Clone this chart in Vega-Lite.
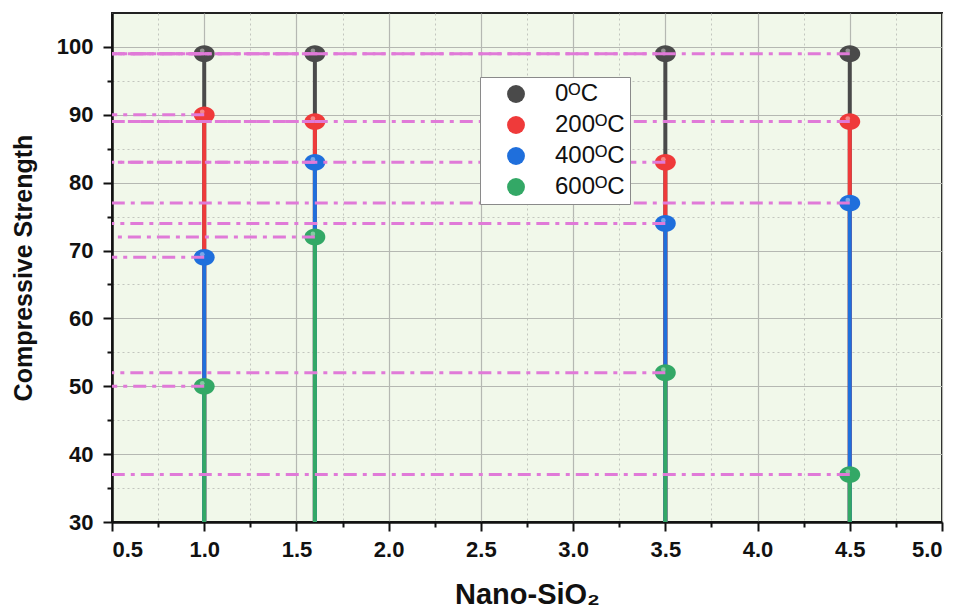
{
  "$schema": "https://vega.github.io/schema/vega-lite/v6.json",
  "width": 830,
  "height": 509,
  "autosize": {"type": "none"},
  "padding": {"left": 112, "top": 13, "right": 20, "bottom": 88},
  "background": "white",
  "config": {
    "view": {"fill": "#f1f8ea", "stroke": "#222", "strokeWidth": 2},
    "font": "Liberation Sans"
  },
  "data": {
    "values": [
      {"x": 1.0, "temp": "0ᴼC", "value": 99},
      {"x": 1.6, "temp": "0ᴼC", "value": 99},
      {"x": 3.5, "temp": "0ᴼC", "value": 99},
      {"x": 4.5, "temp": "0ᴼC", "value": 99},
      {"x": 1.0, "temp": "200ᴼC", "value": 90},
      {"x": 1.6, "temp": "200ᴼC", "value": 89},
      {"x": 3.5, "temp": "200ᴼC", "value": 83},
      {"x": 4.5, "temp": "200ᴼC", "value": 89},
      {"x": 1.0, "temp": "400ᴼC", "value": 69},
      {"x": 1.6, "temp": "400ᴼC", "value": 83},
      {"x": 3.5, "temp": "400ᴼC", "value": 74},
      {"x": 4.5, "temp": "400ᴼC", "value": 77},
      {"x": 1.0, "temp": "600ᴼC", "value": 50},
      {"x": 1.6, "temp": "600ᴼC", "value": 72},
      {"x": 3.5, "temp": "600ᴼC", "value": 52},
      {"x": 4.5, "temp": "600ᴼC", "value": 37}
    ]
  },
  "resolve": {"axis": {"x": "independent", "y": "independent"}},
  "layer": [
    {
      "mark": {"type": "point", "opacity": 0, "size": 1},
      "encoding": {
        "x": {
          "field": "x", "type": "quantitative",
          "scale": {"domain": [0.5, 5.0], "nice": false, "zero": false},
          "axis": {
            "orient": "bottom",
            "values": [0.75, 1.25, 1.75, 2.25, 2.75, 3.25, 3.75, 4.25, 4.75],
            "grid": true, "gridColor": "#c2c6bf", "gridWidth": 1, "gridDash": [2, 3],
            "domain": false, "labels": false, "title": null,
            "tickColor": "#111", "tickWidth": 2, "tickSize": 5
          }
        },
        "y": {
          "field": "value", "type": "quantitative",
          "scale": {"domain": [30, 105], "nice": false, "zero": false},
          "axis": {
            "orient": "left",
            "values": [35, 45, 55, 65, 75, 85, 95],
            "grid": true, "gridColor": "#c2c6bf", "gridWidth": 1, "gridDash": [2, 3],
            "domain": false, "labels": false, "title": null,
            "tickColor": "#111", "tickWidth": 2, "tickSize": 5
          }
        }
      }
    },
    {
      "layer": [
        {
          "mark": {"type": "rule", "strokeWidth": 4},
          "encoding": {
            "x": {
              "field": "x", "type": "quantitative",
              "axis": {
                "orient": "bottom",
                "values": [0.5, 1.0, 1.5, 2.0, 2.5, 3.0, 3.5, 4.0, 4.5, 5.0],
                "format": ".1f",
                "grid": true, "gridColor": "#b5b8b2", "gridWidth": 1.2,
                "domainColor": "#111", "domainWidth": 2.5,
                "tickColor": "#111", "tickWidth": 2, "tickSize": 9,
                "labelFont": "Liberation Sans", "labelFontWeight": "bold", "labelFontSize": 22, "labelColor": "#111",
                "labelPadding": 8,
                "title": "Nano-SiO₂", "titleFont": "Liberation Sans", "titleFontSize": 29, "titleFontWeight": "bold",
                "titleColor": "#111", "titlePadding": 20
              }
            },
            "y": {
              "field": "value", "type": "quantitative",
              "axis": {
                "orient": "left",
                "values": [30, 40, 50, 60, 70, 80, 90, 100],
                "grid": true, "gridColor": "#b5b8b2", "gridWidth": 1.2,
                "domainColor": "#111", "domainWidth": 2.5,
                "tickColor": "#111", "tickWidth": 2, "tickSize": 9,
                "labelFont": "Liberation Sans", "labelFontWeight": "bold", "labelFontSize": 22, "labelColor": "#111",
                "labelPadding": 10,
                "title": "Compressive Strength", "titleFont": "Liberation Sans", "titleFontSize": 25, "titleFontWeight": "bold",
                "titleColor": "#111", "titlePadding": 20
              }
            },
            "y2": {"datum": 30},
            "color": {
              "field": "temp", "type": "nominal",
              "scale": {"domain": ["0ᴼC", "200ᴼC", "400ᴼC", "600ᴼC"], "range": ["#4a4a4a", "#ef3a3a", "#1f6fdc", "#33a866"]},
              "legend": {
                "orient": "none", "legendX": 368, "legendY": 64,
                "title": null,
                "fillColor": "white", "strokeColor": "#8a8a8a", "padding": 5,
                "symbolType": "circle", "symbolSize": 320, "symbolStrokeWidth": 0, "symbolOffset": 19,
                "labelFont": "Liberation Sans", "labelFontSize": 24, "labelColor": "#111",
                "labelOffset": 27, "rowPadding": 7, "labelLimit": 200
              }
            }
          }
        },
        {
          "mark": {"type": "point", "filled": true, "opacity": 1, "size": 330,
            "shape": "M-1.15,0 A1.15,0.92,0,1,1,1.15,0 A1.15,0.92,0,1,1,-1.15,0 Z"},
          "encoding": {
            "x": {"field": "x", "type": "quantitative"},
            "y": {"field": "value", "type": "quantitative"},
            "color": {"field": "temp", "type": "nominal"}
          }
        },
        {
          "mark": {"type": "point", "filled": true, "color": "white", "opacity": 0.4, "size": 22, "yOffset": -3, "xOffset": -2},
          "encoding": {
            "x": {"field": "x", "type": "quantitative"},
            "y": {"field": "value", "type": "quantitative"}
          }
        },
        {
          "mark": {"type": "rule", "color": "#e07ad8", "strokeWidth": 3, "strokeDash": [13, 6, 4, 6]},
          "encoding": {
            "x": {"field": "x", "type": "quantitative"},
            "x2": {"datum": 0.5},
            "y": {"field": "value", "type": "quantitative"}
          }
        }
      ]
    }
  ]
}
